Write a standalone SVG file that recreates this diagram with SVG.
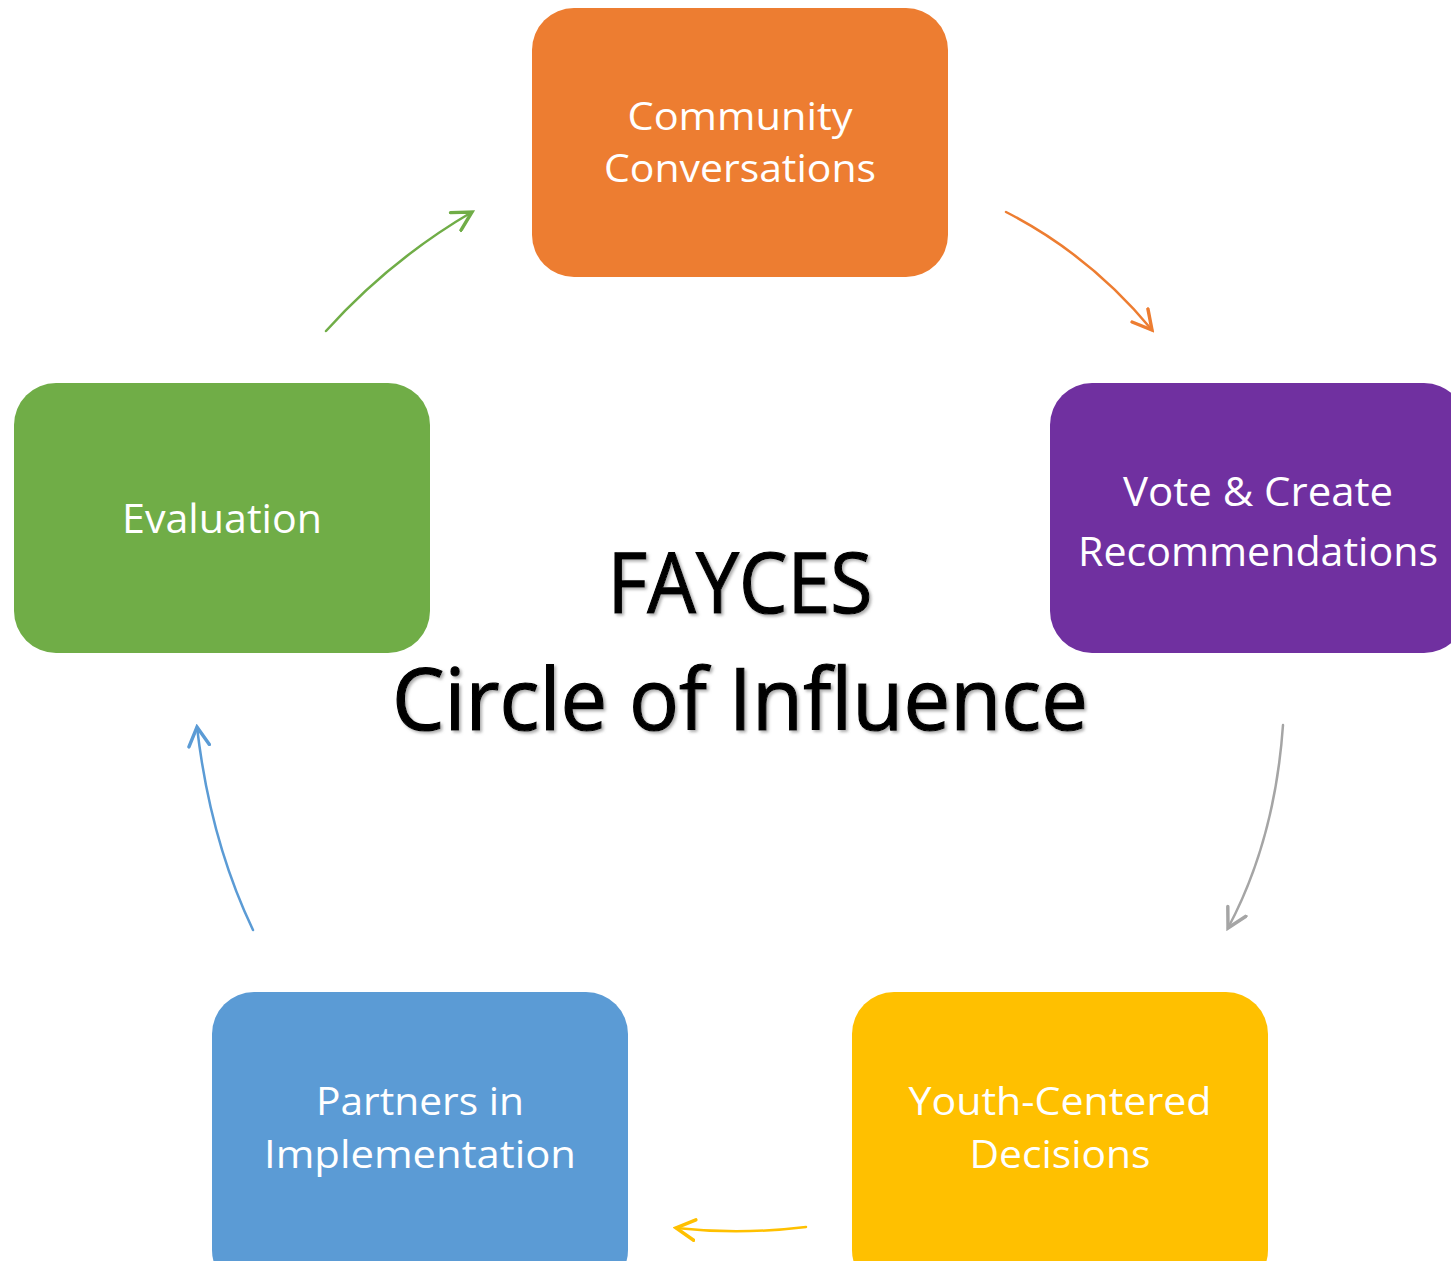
<svg xmlns="http://www.w3.org/2000/svg" width="1451" height="1261" viewBox="0 0 1451 1261">
<style>
.box{stroke:none}
.lbl{font-family:"Open Sans","Noto Sans",sans-serif;fill:#fff;text-anchor:middle}
.ttl{font-family:"Open Sans","Noto Sans",sans-serif;fill:#000;stroke:#000;stroke-width:1.2;text-anchor:middle;filter:url(#sh)}
.conn{fill:none;stroke-width:2.5;stroke-linecap:round}
</style>
<defs>
<filter id="sh" x="-10%" y="-10%" width="120%" height="130%">
<feDropShadow dx="2" dy="2" stdDeviation="1.5" flood-color="#777" flood-opacity="0.6"/>
</filter>
<marker id="mO" markerUnits="userSpaceOnUse" markerWidth="24" markerHeight="24" refX="12" refY="7" orient="auto" viewBox="0 0 14 14"><path d="M1,1 L12,7 L1,13" fill="none" stroke="#ED7D31" stroke-width="2" stroke-linecap="round"/></marker>
<marker id="mG" markerUnits="userSpaceOnUse" markerWidth="24" markerHeight="24" refX="12" refY="7" orient="auto" viewBox="0 0 14 14"><path d="M1,1 L12,7 L1,13" fill="none" stroke="#A5A5A5" stroke-width="2" stroke-linecap="round"/></marker>
<marker id="mY" markerUnits="userSpaceOnUse" markerWidth="24" markerHeight="24" refX="12" refY="7" orient="auto" viewBox="0 0 14 14"><path d="M1,1 L12,7 L1,13" fill="none" stroke="#FFC000" stroke-width="2" stroke-linecap="round"/></marker>
<marker id="mB" markerUnits="userSpaceOnUse" markerWidth="24" markerHeight="24" refX="12" refY="7" orient="auto" viewBox="0 0 14 14"><path d="M1,1 L12,7 L1,13" fill="none" stroke="#5B9BD5" stroke-width="2" stroke-linecap="round"/></marker>
<marker id="mN" markerUnits="userSpaceOnUse" markerWidth="24" markerHeight="24" refX="12" refY="7" orient="auto" viewBox="0 0 14 14"><path d="M1,1 L12,7 L1,13" fill="none" stroke="#70AD47" stroke-width="2" stroke-linecap="round"/></marker>
</defs>
<rect width="1451" height="1261" fill="#fff"/>
<g id="connectors">
<path class="conn" stroke="#ED7D31" marker-end="url(#mO)" d="M1006,212 Q1090,255 1152,330"/>
<path class="conn" stroke="#A5A5A5" marker-end="url(#mG)" d="M1283,725 Q1275,840 1228,928"/>
<path class="conn" stroke="#FFC000" marker-end="url(#mY)" d="M806,1227 Q740,1235 676,1228"/>
<path class="conn" stroke="#5B9BD5" marker-end="url(#mB)" d="M253,930 Q210,840 197,727"/>
<path class="conn" stroke="#70AD47" marker-end="url(#mN)" d="M326,331 Q390,260 472,212"/>
</g>
<g id="community">
<rect class="box" x="532" y="8" width="416" height="269" rx="42" fill="#ED7D31"/>
<text class="lbl" x="740" y="130" font-size="38" textLength="225" lengthAdjust="spacingAndGlyphs">Community</text>
<text class="lbl" x="740" y="182" font-size="38" textLength="272" lengthAdjust="spacingAndGlyphs">Conversations</text>
</g>
<g id="vote">
<rect class="box" x="1050" y="383" width="416" height="270" rx="42" fill="#7030A0"/>
<text class="lbl" x="1258" y="506" font-size="40" textLength="270" lengthAdjust="spacingAndGlyphs">Vote &amp; Create</text>
<text class="lbl" x="1258" y="566" font-size="40" textLength="360" lengthAdjust="spacingAndGlyphs">Recommendations</text>
</g>
<g id="evaluation">
<rect class="box" x="14" y="383" width="416" height="270" rx="42" fill="#70AD47"/>
<text class="lbl" x="222" y="533" font-size="40" textLength="200" lengthAdjust="spacingAndGlyphs">Evaluation</text>
</g>
<g id="partners">
<rect class="box" x="212" y="992" width="416" height="300" rx="42" fill="#5B9BD5"/>
<text class="lbl" x="420" y="1115" font-size="38" textLength="208" lengthAdjust="spacingAndGlyphs">Partners in</text>
<text class="lbl" x="420" y="1168" font-size="38" textLength="312" lengthAdjust="spacingAndGlyphs">Implementation</text>
</g>
<g id="youth">
<rect class="box" x="852" y="992" width="416" height="300" rx="42" fill="#FFC000"/>
<text class="lbl" x="1060" y="1115" font-size="38" textLength="303" lengthAdjust="spacingAndGlyphs">Youth-Centered</text>
<text class="lbl" x="1060" y="1168" font-size="38" textLength="181" lengthAdjust="spacingAndGlyphs">Decisions</text>
</g>
<g id="title">
<text class="ttl" x="740" y="613" font-size="84" textLength="265" lengthAdjust="spacingAndGlyphs">FAYCES</text>
<text class="ttl" x="740" y="730" font-size="86" textLength="696" lengthAdjust="spacingAndGlyphs">Circle of Influence</text>
</g>
</svg>
